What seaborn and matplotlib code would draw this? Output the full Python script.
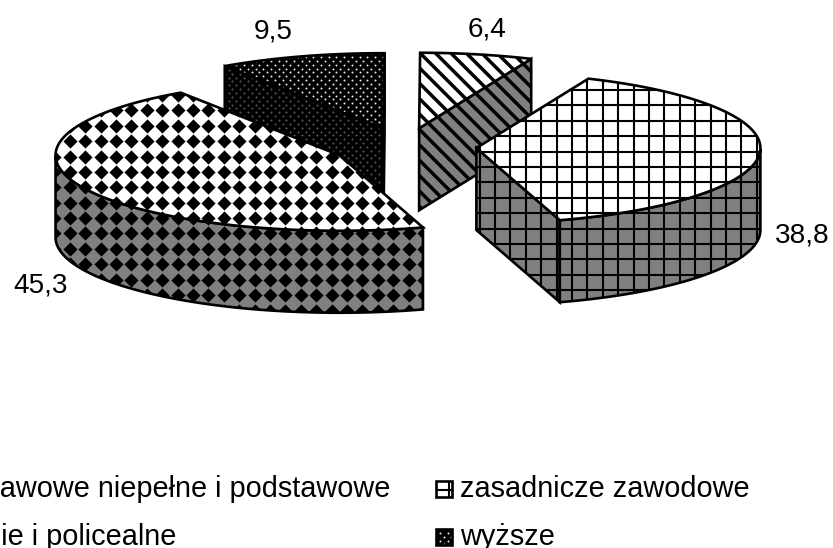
import numpy as np
import matplotlib
matplotlib.use('Agg')
import matplotlib.pyplot as plt
from matplotlib.patches import Polygon
import seaborn as sns

sns.set_theme(style='white')
plt.rcParams['font.family'] = ['Liberation Sans', 'DejaVu Sans']

# dane
categories = ['podstawowe niepełne i podstawowe', 'zasadnicze zawodowe', 'średnie i policealne', 'wyższe']
values = [45.3, 38.8, 6.4, 9.5]
value_labels = ['45,3', '38,8', '6,4', '9,5']
patterns = ['diamond', 'grid', 'stripes', 'dots']
# polozenie etykiet (srodek x, linia bazowa y)
label_pos = [(41, 293), (802, 243), (487, 37), (273, 39)]

# geometria "3D" w pikselach
start_angle = 124.0
cx, cy = 404.5, 147
rx, ry = 284, 75.5
depth = 82
explode = 72
PITCH = 15.4

fig = plt.figure(figsize=(8.33, 5.48), dpi=100)
ax = fig.add_axes([0, 0, 1, 1])


def add_pattern(poly, kind, side=False):
    x0, y0 = poly.get_xy().min(axis=0)
    x1, y1 = poly.get_xy().max(axis=0)
    if kind == 'diamond':
        xs = np.arange(162.3 - 30 * PITCH, 833, PITCH)
        ys = np.arange(125.7 - 8 * PITCH, 548, PITCH)
        xx, yy = np.meshgrid(xs[(xs > x0 - 9) & (xs < x1 + 9)], ys[(ys > y0 - 9) & (ys < y1 + 9)])
        sns.scatterplot(x=xx.ravel(), y=yy.ravel(), marker='D', s=52, color='black',
                        linewidth=0, ax=ax, legend=False, zorder=poly.get_zorder())
        art = [ax.collections[-1]]
    elif kind == 'grid':
        xs = np.arange(556.7 - 40 * PITCH, 900, PITCH)
        ys = np.arange(151.7 - 12 * PITCH, 600, PITCH)
        art = [ax.vlines(xs[(xs > x0) & (xs < x1)], y0, y1, color='black', lw=1.5, zorder=poly.get_zorder()),
               ax.hlines(ys[(ys > y0) & (ys < y1)], x0, x1, color='black', lw=1.5, zorder=poly.get_zorder())]
    elif kind == 'stripes':
        cs = np.arange(x0 - y1 - PITCH, x1 - y0 + PITCH, PITCH)
        cs = cs - (cs - 367.0) % PITCH
        art = [ax.plot([c + y0, c + y1], [y0, y1], color='black', lw=2.5, zorder=poly.get_zorder(),
                       solid_capstyle='butt')[0] for c in cs]
    else:
        step = PITCH / 2
        xs = np.arange(x0 - step, x1 + step, step / 2)
        pts = []
        for i, y in enumerate(np.arange(y0 - step, y1 + step, step / 2)):
            for j, x in enumerate(xs):
                if (i + j) % 2 == 0:
                    pts.append((x, y))
        pts = np.array(pts)
        sns.scatterplot(x=pts[:, 0], y=pts[:, 1], s=2.0, color='#606060' if side else '#e8e8e8',
                        linewidth=0, ax=ax, legend=False, zorder=poly.get_zorder())
        art = [ax.collections[-1]]
    for a in art:
        a.set_clip_path(poly)


def face(pts, kind, side=False, z=1):
    if kind == 'dots':
        base = 'black'
    else:
        base = '#808080' if side else 'white'
    poly = Polygon(pts, closed=True, facecolor=base, edgecolor='none', zorder=z)
    ax.add_patch(poly)
    add_pattern(poly, kind, side)
    ax.add_patch(Polygon(pts, closed=True, fill=False, edgecolor='black', lw=1.9,
                         joinstyle='miter', zorder=z + 0.1))


def draw_slice(theta1, theta2, kind, z):
    mid = np.radians((theta1 + theta2) / 2)
    x = cx + explode * np.cos(mid)
    y = cy - explode * ry / rx * np.sin(mid)

    t = np.radians(np.linspace(theta1, theta2, 200))
    arc = np.c_[x + rx * np.cos(t), y - ry * np.sin(t)]
    down = np.array([0, depth])
    centre = np.array([x, y])

    # sciany boczne
    if np.sin(np.radians(theta1 - 90)) < -1e-6:
        a = arc[0]
        face([centre, a, a + down, centre + down], kind, True, z)
    if np.sin(np.radians(theta2 + 90)) < -1e-6:
        a = arc[-1]
        face([centre, a, a + down, centre + down], kind, True, z)
    front = arc[np.sin(t) < 0]
    if len(front) > 1:
        face(np.r_[front, (front + down)[::-1]], kind, True, z + 1)
    # gorna powierzchnia
    face(np.r_[[centre], arc], kind, False, z + 2)


angles = start_angle + np.r_[0, np.cumsum(values)] * 360 / sum(values)
# kolejnosc rysowania: od tylu do przodu
for i, z in zip([3, 2, 0, 1], [1, 5, 10, 15]):
    draw_slice(angles[i], angles[i + 1], patterns[i], z)

for txt, (lx, ly) in zip(value_labels, label_pos):
    ax.text(lx, ly, txt, ha='center', va='baseline', fontsize=20.2, color='black', zorder=30)

# legenda (lewa kolumna wychodzi poza rysunek, jak w oryginale)
leg_x = [-71, 460]
leg_y = [497, 545]
for i, name in enumerate(categories):
    tx = leg_x[i % 2]
    ty = leg_y[i // 2]
    ax.text(tx, ty, name, ha='left', va='baseline', fontsize=20.8, color='black', zorder=30)
    sw = [(tx - 24, ty - 16), (tx - 8, ty - 16), (tx - 8, ty), (tx - 24, ty)]
    face(sw, patterns[i], False, 25)

ax.set_xlim(0, 833)
ax.set_ylim(548, 0)
ax.axis('off')
fig.savefig('out.png', dpi=100, facecolor='white')
